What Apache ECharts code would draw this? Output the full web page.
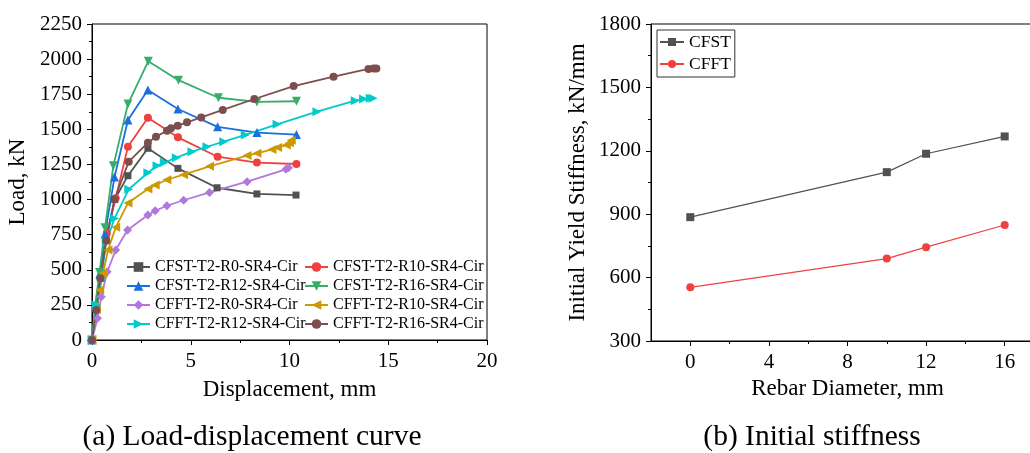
<!DOCTYPE html>
<html>
<head>
<meta charset="utf-8">
<script src="https://cdn.jsdelivr.net/npm/echarts@6/dist/echarts.min.js"></script>
<style>
  html, body { margin: 0; padding: 0; background: #fff; }
  #chart { width: 1030px; height: 453px; }
</style>
</head>
<body>
<div id="chart"></div>
<script>
// (a) load-displacement curves, [displacement mm, load kN]
var cfstR0 = [[0, 0], [0.2, 220], [0.45, 440], [0.72, 720], [1.15, 1000], [1.82, 1170], [2.83, 1365], [4.35, 1222], [6.33, 1084], [8.35, 1040], [10.33, 1032]];
var cfstR10 = [[0, 0], [0.2, 230], [0.45, 460], [0.75, 760], [1.2, 1010], [1.82, 1376], [2.83, 1583], [4.35, 1443], [6.36, 1305], [8.35, 1263], [10.35, 1253]];
var cfstR12 = [[0, 0], [0.2, 240], [0.4, 470], [0.66, 755], [1.14, 1160], [1.82, 1566], [2.83, 1780], [4.35, 1645], [6.36, 1518], [8.35, 1477], [10.35, 1463]];
var cfstR16 = [[0, 0], [0.15, 240], [0.38, 480], [0.66, 800], [1.08, 1240], [1.82, 1680], [2.85, 1985], [4.38, 1850], [6.4, 1725], [8.35, 1695], [10.35, 1700]];
var cfftR0 = [[0, 0], [0.28, 154], [0.47, 308], [0.77, 486], [1.2, 641], [1.8, 783], [2.83, 890], [3.2, 920], [3.79, 956], [4.64, 995], [5.95, 1051], [7.85, 1127], [9.82, 1215], [9.95, 1227]];
var cfftR10 = [[0, 0], [0.22, 218], [0.39, 356], [0.56, 475], [0.81, 641], [1.2, 802], [1.82, 975], [2.83, 1075], [3.2, 1103], [3.79, 1141], [4.64, 1177], [5.95, 1237], [7.85, 1313], [8.35, 1329], [9.11, 1357], [9.4, 1371], [9.84, 1388], [10.0, 1405], [10.09, 1422]];
var cfftR12 = [[0, 0], [0.22, 249], [0.47, 439], [0.72, 700], [1.14, 866], [1.86, 1073], [2.83, 1191], [3.29, 1241], [3.66, 1264], [4.27, 1298], [5.06, 1341], [5.82, 1376], [6.67, 1412], [7.76, 1460], [9.37, 1536], [11.39, 1626], [13.33, 1704], [13.75, 1716], [14.09, 1721], [14.23, 1721]];
var cfftR16 = [[0, 0], [0.22, 214], [0.42, 439], [0.72, 707], [1.14, 1002], [1.86, 1270], [2.83, 1405], [3.24, 1448], [3.8, 1490], [4.0, 1507], [4.34, 1526], [4.81, 1550], [5.53, 1585], [6.62, 1638], [8.22, 1716], [10.21, 1808], [12.23, 1875], [14.0, 1930], [14.26, 1934], [14.4, 1934]];

// (b) initial yield stiffness, kN/mm
var rebarDia = [0, 10, 12, 16];
var stiffCFST = [886, 1099, 1186, 1268];
var stiffCFFT = [554, 690, 744, 849];
var rebarTicks = [0, 4, 8, 12, 16];
var rebarMinor = [2, 6, 10, 14];

var font = '"Liberation Serif", "Times New Roman", serif';
var chart = echarts.init(document.getElementById('chart'), null, { renderer: 'canvas' });

function pairs(xs, ys) {
  return xs.map(function (x, i) { return [x, ys[i]]; });
}

function plain(v) {
  return String(v);
}

// 左图曲线
function curve(name, data, color, symbol, rot, size) {
  return {
    name: name,
    type: 'line',
    xAxisIndex: 0,
    yAxisIndex: 0,
    data: data,
    symbol: symbol,
    symbolRotate: rot,
    symbolSize: size,
    showAllSymbol: true,
    lineStyle: { color: color, width: 1.8 },
    itemStyle: { color: color },
    emphasis: { disabled: true },
    z: 3
  };
}

var legendText = { fontFamily: font, fontSize: 16, color: '#000' };
var axisLine = { show: true, onZero: false, lineStyle: { color: '#000', width: 1 } };
var nameStyle = { fontFamily: font, fontSize: 23, color: '#000' };
var labelStyle = { fontFamily: font, fontSize: 21, color: '#000', formatter: plain };

var option = {
  animation: false,
  backgroundColor: '#fff',
  grid: [
    { left: 92, top: 24, right: 543, bottom: 113, outerBoundsMode: 'none', show: true, borderColor: '#000', borderWidth: 1 },
    { left: 651, top: 24, right: -14, bottom: 112, outerBoundsMode: 'none', show: true, borderColor: '#000', borderWidth: 1 }
  ],
  legend: [
    {
      left: 126, top: 259, orient: 'vertical', padding: 0, itemGap: 3,
      itemWidth: 23, itemHeight: 12, textStyle: legendText,
      data: ['CFST-T2-R0-SR4-Cir', 'CFST-T2-R12-SR4-Cir', 'CFFT-T2-R0-SR4-Cir', 'CFFT-T2-R12-SR4-Cir']
    },
    {
      left: 304, top: 259, orient: 'vertical', padding: 0, itemGap: 3,
      itemWidth: 23, itemHeight: 12, textStyle: legendText,
      data: ['CFST-T2-R10-SR4-Cir', 'CFST-T2-R16-SR4-Cir', 'CFFT-T2-R10-SR4-Cir', 'CFFT-T2-R16-SR4-Cir']
    },
    {
      left: 657, top: 30, orient: 'vertical', padding: [3, 4, 4, 2], itemGap: 4,
      itemWidth: 24, itemHeight: 10, borderColor: '#333', borderWidth: 1,
      textStyle: { fontFamily: font, fontSize: 17.5, color: '#000' },
      data: ['CFST', 'CFFT']
    }
  ],
  xAxis: [
    {
      gridIndex: 0, type: 'value', min: 0, max: 20, interval: 5, position: 'bottom',
      name: 'Displacement, mm', nameLocation: 'middle', nameGap: 38, nameTextStyle: nameStyle,
      axisLine: axisLine,
      axisTick: { length: 5, lineStyle: { color: '#000' } },
      minorTick: { show: true, splitNumber: 2, length: 3, lineStyle: { color: '#000' } },
      axisLabel: Object.assign({ margin: 11 }, labelStyle),
      splitLine: { show: false }
    },
    {
      gridIndex: 1, type: 'value', min: -2, max: 18, position: 'bottom',
      name: 'Rebar Diameter, mm', nameLocation: 'middle', nameGap: 32, nameTextStyle: nameStyle,
      axisLine: axisLine,
      axisTick: { length: 5, customValues: rebarTicks, lineStyle: { color: '#000' } },
      axisLabel: Object.assign({ margin: 11, customValues: rebarTicks }, labelStyle),
      splitLine: { show: false }
    },
    {
      gridIndex: 1, type: 'value', min: -2, max: 18, position: 'bottom',
      axisLine: { show: false, onZero: false },
      axisTick: { length: 3, customValues: rebarMinor, lineStyle: { color: '#000' } },
      axisLabel: { show: false },
      splitLine: { show: false }
    }
  ],
  yAxis: [
    {
      gridIndex: 0, type: 'value', min: 0, max: 2250, interval: 250, position: 'left',
      name: 'Load, kN', nameLocation: 'middle', nameGap: 63, nameTextStyle: nameStyle,
      axisLine: axisLine,
      axisTick: { show: true, length: 5, lineStyle: { color: '#000' } },
      minorTick: { show: true, splitNumber: 2, length: 3, lineStyle: { color: '#000' } },
      axisLabel: Object.assign({ margin: 10 }, labelStyle),
      splitLine: { show: false }
    },
    {
      gridIndex: 1, type: 'value', min: 300, max: 1800, interval: 300, position: 'left',
      name: 'Initial Yield Stiffness, kN/mm', nameLocation: 'middle', nameGap: 62, nameTextStyle: nameStyle,
      axisLine: axisLine,
      axisTick: { show: true, length: 5, lineStyle: { color: '#000' } },
      minorTick: { show: true, splitNumber: 2, length: 3, lineStyle: { color: '#000' } },
      axisLabel: Object.assign({ margin: 10 }, labelStyle),
      splitLine: { show: false }
    }
  ],
  series: [
    curve('CFST-T2-R0-SR4-Cir', cfstR0, '#515151', 'rect', 0, 7),
    curve('CFST-T2-R10-SR4-Cir', cfstR10, '#F14040', 'circle', 0, 8),
    curve('CFST-T2-R12-SR4-Cir', cfstR12, '#1A6FDF', 'triangle', 0, 9),
    curve('CFST-T2-R16-SR4-Cir', cfstR16, '#37AD6B', 'triangle', 180, 9),
    curve('CFFT-T2-R0-SR4-Cir', cfftR0, '#B177DE', 'diamond', 0, 9),
    curve('CFFT-T2-R10-SR4-Cir', cfftR10, '#CC9900', 'triangle', 90, 9),
    curve('CFFT-T2-R12-SR4-Cir', cfftR12, '#00CBCC', 'triangle', -90, 9),
    curve('CFFT-T2-R16-SR4-Cir', cfftR16, '#7D4E4E', 'circle', 0, 8),
    {
      name: 'CFST', type: 'line', xAxisIndex: 1, yAxisIndex: 1,
      data: pairs(rebarDia, stiffCFST), symbol: 'rect', symbolSize: 8,
      lineStyle: { color: '#515151', width: 1.2 }, itemStyle: { color: '#515151' },
      emphasis: { disabled: true }
    },
    {
      name: 'CFFT', type: 'line', xAxisIndex: 1, yAxisIndex: 1,
      data: pairs(rebarDia, stiffCFFT), symbol: 'circle', symbolSize: 8,
      lineStyle: { color: '#F14040', width: 1.2 }, itemStyle: { color: '#F14040' },
      emphasis: { disabled: true }
    }
  ],
  graphic: [
    {
      type: 'text', x: 252, y: 437,
      style: { text: '(a) Load-displacement curve', fontFamily: font, fontSize: 29.5, fill: '#000', textAlign: 'center', textVerticalAlign: 'middle' }
    },
    {
      type: 'text', x: 812, y: 437,
      style: { text: '(b) Initial stiffness', fontFamily: font, fontSize: 29.5, fill: '#000', textAlign: 'center', textVerticalAlign: 'middle' }
    }
  ]
};

chart.setOption(option);
</script>
</body>
</html>
